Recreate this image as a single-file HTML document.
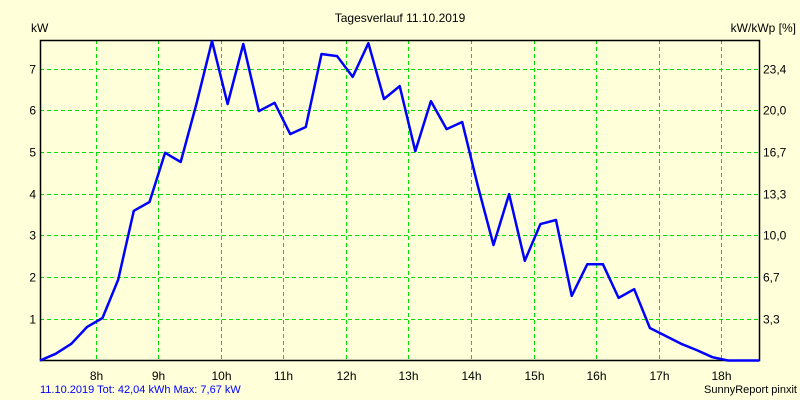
<!DOCTYPE html>
<html><head><meta charset="utf-8"><style>
body{margin:0;background:#ffffda;}
svg{display:block;font-family:"Liberation Sans",sans-serif;font-size:12px;}
</style></head><body>
<svg id="chart" width="800" height="400" viewBox="0 0 800 400">
<rect width="800" height="400" fill="#ffffda"/>
<text x="400" y="22" text-anchor="middle">Tagesverlauf 11.10.2019</text>
<text x="31" y="32">kW</text>
<text x="796" y="32" text-anchor="end">kW/kWp [%]</text>
<g id="grid"></g><g id="axes"></g><g id="series"></g>
<text x="40" y="393" fill="#0000ff" font-size="11">11.10.2019 Tot: 42,04 kWh Max: 7,67 kW</text>
<text x="797" y="393" text-anchor="end" font-size="11">SunnyReport pinxit</text>
</svg>
<script>
const startHour = 7.11;
const stepHours = 0.25;
const powerKW = [0,0.16,0.40,0.80,1.02,1.94,3.59,3.80,4.98,4.76,6.15,7.66,6.15,7.59,5.98,6.18,5.43,5.60,7.35,7.30,6.80,7.61,6.27,6.58,5.02,6.22,5.55,5.72,4.19,2.77,3.99,2.39,3.27,3.37,1.55,2.31,2.31,1.50,1.71,0.78,0.59,0.40,0.25,0.08,0,0,0];
const hourTicks = [8,9,10,11,12,13,14,15,16,17,18];
const hourLabels = ["8h","9h","10h","11h","12h","13h","14h","15h","16h","17h","18h"];
const kwTicks = [1,2,3,4,5,6,7];
const kwLabels = ["1","2","3","4","5","6","7"];
const pctLabels = ["3,3","6,7","10,0","13,3","16,7","20,0","23,4"];
const L=40,R=759,T=40,B=360.5;
const xOf=h=>L+(h-startHour)*62.55;
const yOf=v=>B-v*41.7;
const NS="http://www.w3.org/2000/svg";
function mk(tag,attrs,parent,txt){const e=document.createElementNS(NS,tag);for(const k in attrs)e.setAttribute(k,attrs[k]);if(txt!==undefined)e.textContent=txt;parent.appendChild(e);return e;}
const grid=document.getElementById('grid'),axes=document.getElementById('axes'),series=document.getElementById('series');
hourTicks.forEach((h,i)=>{const x=Math.round(xOf(h))+0.5;
 const g=mk('line',{x1:x,x2:x,y1:T,y2:B,stroke:'#00e000','stroke-dasharray':'4,3'},grid);
 
 
 const t=mk('text',{x:x,y:380,'text-anchor':'middle'},axes,hourLabels[i]);
 
 
});
kwTicks.forEach((v,i)=>{const y=Math.round(yOf(v))+0.5;
 const g=mk('line',{x1:L,x2:R,y1:y,y2:y,stroke:'#00e000','stroke-dasharray':'4,3'},grid);
 
 
 const t=mk('text',{x:36,y:y+4,'text-anchor':'end'},axes,kwLabels[i]);
 
 
 const t2=mk('text',{x:763,y:y+4},axes,pctLabels[i]);
 
 
});
const fr=mk('path',{d:`M${L+0.5},${T+0.5}H${R+0.5}V${B}H${L+0.5}Z`,fill:'none',stroke:'#000','stroke-width':1.5},axes);


const pts=powerKW.map((v,i)=>xOf(startHour+i*stepHours).toFixed(1)+','+yOf(v).toFixed(1)).join(' ');
const pl=mk('polyline',{points:pts,fill:'none',stroke:'#0000ff','stroke-width':2.5,'stroke-linejoin':'round'},series);


</script>
</body></html>
